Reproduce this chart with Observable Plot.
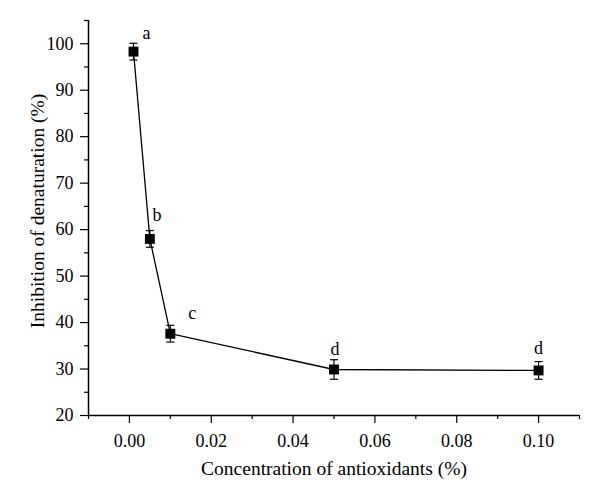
<!DOCTYPE html>
<html>
<head>
<meta charset="utf-8">
<script src="https://cdn.jsdelivr.net/npm/d3@7"></script>
<script src="https://cdn.jsdelivr.net/npm/@observablehq/plot@0.6"></script>
<style>
  html, body { margin: 0; padding: 0; background: #fff; }
  #chart { width: 600px; height: 502px; }
</style>
</head>
<body>
<div id="chart"></div>
<script>
const concentration = [0.001, 0.005, 0.01, 0.05, 0.10];
const inhibition    = [98.3, 58.0, 37.6, 29.9, 29.7];
const errorSD       = [1.8, 1.8, 1.8, 2.1, 1.9];
const groupLetters  = ["a", "b", "c", "d", "d"];
const xTicks = [0.00, 0.02, 0.04, 0.06, 0.08, 0.10];
const xMinorTicks = [-0.01, 0.01, 0.03, 0.05, 0.07, 0.09, 0.11];
const yTicks = [20, 30, 40, 50, 60, 70, 80, 90, 100];
const yMinorTicks = [25, 35, 45, 55, 65, 75, 85, 95, 105];
const xTitle = "Concentration of antioxidants (%)";
const yTitle = "Inhibition of denaturation (%)";

const data = concentration.map((x, i) => ({
  x, y: inhibition[i], lo: inhibition[i] - errorSD[i], hi: inhibition[i] + errorSD[i], label: groupLetters[i]
}));

const capSymbol = {
  draw(context) {
    const r = 4;
    context.moveTo(-r, 0);
    context.lineTo(r, 0);
  }
};

// label offsets (px) per point, for annotation placement
const labelOffsets = [
  {dx: 13, dy: -10},
  {dx: 7, dy: -15},
  {dx: 22, dy: -12},
  {dx: 1, dy: -11},
  {dx: 0, dy: -13}
];

const font = "'Liberation Serif', 'DejaVu Serif', serif";
const blank = () => "";

const chart = Plot.plot({
  width: 600,
  height: 502,
  marginLeft: 88,
  marginRight: 21,
  marginTop: 20,
  marginBottom: 87,
  style: { fontFamily: font, fontSize: "18px", color: "#000", background: "#fff" },
  x: { domain: [-0.01, 0.11] },
  y: { domain: [20, 105] },
  marks: [
    Plot.ruleX([-0.01], { stroke: "#000", strokeWidth: 1.5 }),
    Plot.ruleY([20], { stroke: "#000", strokeWidth: 1.5 }),
    Plot.axisX({ ticks: xMinorTicks, tickSize: 4, tickFormat: blank, label: null, strokeWidth: 1.2 }),
    Plot.axisX({ ticks: xTicks, tickSize: 8, tickPadding: 11, tickFormat: d3.format(".2f"), strokeWidth: 1.2,
      fontSize: 18, label: null }),
    Plot.axisY({ ticks: yMinorTicks, tickSize: 4, tickFormat: blank, label: null, strokeWidth: 1.2 }),
    Plot.axisY({ ticks: yTicks, tickSize: 8, tickPadding: 7, tickFormat: d3.format("d"), strokeWidth: 1.2,
      fontSize: 18, label: null }),
    Plot.text([xTitle], { text: d => d, frameAnchor: "bottom", dy: 53, lineAnchor: "middle", textAnchor: "middle", fontSize: 19.5, fill: "#000" }),
    Plot.text([yTitle], { text: d => d, frameAnchor: "left", rotate: -90, dx: -51, dy: -7, lineAnchor: "middle", textAnchor: "middle", fontSize: 19.5, fill: "#000" }),
    Plot.line(data, { x: "x", y: "y", stroke: "#000", strokeWidth: 1.3 }),
    Plot.ruleX(data, { x: "x", y1: "lo", y2: "hi", stroke: "#000", strokeWidth: 1.2 }),
    Plot.dot(data, { x: "x", y: "lo", symbol: capSymbol, stroke: "#000", strokeWidth: 1.2, r: 4 }),
    Plot.dot(data, { x: "x", y: "hi", symbol: capSymbol, stroke: "#000", strokeWidth: 1.2, r: 4 }),
    Plot.dot(data, { x: "x", y: "y", symbol: "square", fill: "#000", stroke: "none", r: 5.6 }),
    ...data.map((d, i) => Plot.text([d], { x: "x", y: "hi", text: "label", dx: labelOffsets[i].dx, dy: labelOffsets[i].dy,
      fontSize: 18, fill: "#000", textAnchor: "middle" }))
  ]
});

// enforce serif font and sizes on every text element
d3.select(chart).selectAll("text").each(function () {
  const t = this.textContent;
  const size = (t === xTitle || t === yTitle) ? "19.5px" : "18px";
  d3.select(this)
    .style("font-family", font)
    .style("font-size", size)
    .style("fill", "#000");
});

document.getElementById("chart").appendChild(chart);
</script>
</body>
</html>
